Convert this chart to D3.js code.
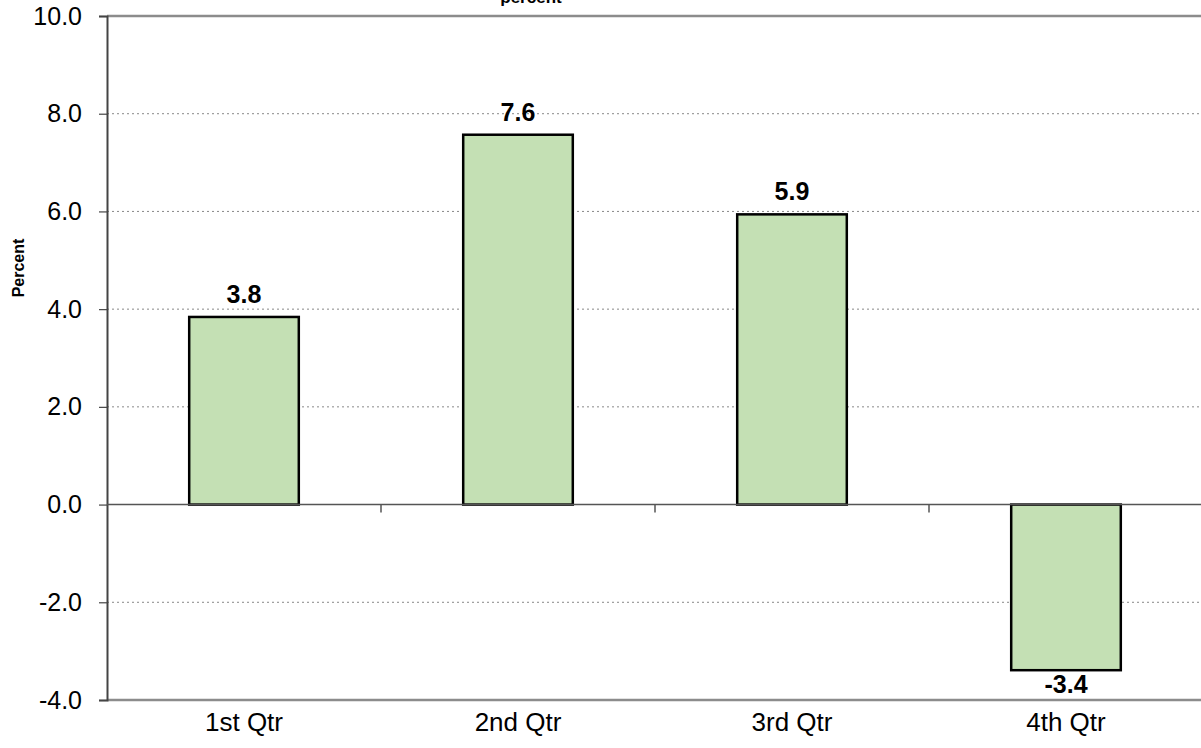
<!DOCTYPE html>
<html><head><meta charset="utf-8">
<script src="https://cdn.jsdelivr.net/npm/d3@7"></script>
<style>body{margin:0;background:#fff}svg{display:block}text{font-family:"Liberation Sans",Arial,sans-serif}</style>
</head><body>
<svg id="c" width="1201" height="748"></svg>
<script>
const categories = ["1st Qtr","2nd Qtr","3rd Qtr","4th Qtr"];
const values = [3.84, 7.57, 5.94, -3.39];
const yTicks = [-4,-2,0,2,4,6,8,10];
const title = "percent";
const yTitle = "Percent";

const svg = d3.select("#c");
const L=107, R=1203, T=16, B=700;
const x = d3.scaleBand().domain(categories).range([L,R]).paddingInner(0.6).paddingOuter(0.3);
const xb = d3.scaleBand().domain(categories).range([L,R]);
const y = d3.scaleLinear().domain([-4,10]).range([B,T]);

// gridlines
svg.append("g").selectAll("line").data(yTicks.filter(t=>t!==0&&t!==10&&t!==-4)).join("line")
  .attr("x1",L).attr("x2",R).attr("y1",d=>y(d)).attr("y2",d=>y(d))
  .attr("stroke","#888").attr("stroke-width",1).attr("stroke-dasharray","2,3");

// top/bottom border
svg.append("line").attr("x1",L).attr("x2",R).attr("y1",y(10)).attr("y2",y(10)).attr("stroke","#8c8c8c").attr("stroke-width",2.5);
svg.append("line").attr("x1",L).attr("x2",R).attr("y1",y(-4)).attr("y2",y(-4)).attr("stroke","#8c8c8c").attr("stroke-width",2.5);

// y axis
const ya = svg.append("g").attr("transform",`translate(${L},0)`)
  .call(d3.axisLeft(y).tickValues(yTicks).tickFormat(d=>d.toFixed(1)).tickSize(8).tickPadding(17));
ya.select(".domain").attr("stroke","#444").attr("stroke-width",2);
ya.selectAll(".tick line").attr("stroke","#444").attr("stroke-width",1.2);
ya.selectAll(".tick text").attr("font-size",25).attr("fill","#000").attr("font-family","'Liberation Sans',Arial,sans-serif");

// bars
svg.append("g").selectAll("rect").data(values).join("rect")
  .attr("x",(d,i)=>x(categories[i])).attr("width",x.bandwidth())
  .attr("y",d=>y(Math.max(0,d))).attr("height",d=>Math.abs(y(d)-y(0)))
  .attr("fill","#c4e0b4").attr("stroke","#000").attr("stroke-width",2.5);

// zero line
svg.append("line").attr("x1",L).attr("x2",R).attr("y1",y(0)).attr("y2",y(0)).attr("stroke","#555").attr("stroke-width",1.5);
svg.append("g").selectAll("line").data(categories.slice(1)).join("line")
  .attr("x1",d=>xb(d)).attr("x2",d=>xb(d)).attr("y1",y(0)).attr("y2",y(0)+8)
  .attr("stroke","#555").attr("stroke-width",1.5);

// value labels
svg.append("g").selectAll("text").data(values).join("text")
  .attr("x",(d,i)=>x(categories[i])+x.bandwidth()/2)
  .attr("y",d=>d>=0? y(d)-14 : y(d)+23)
  .attr("text-anchor","middle").attr("font-size",25).attr("font-weight","bold")
  .text(d=>d.toFixed(1));

// x labels
svg.append("g").selectAll("text").data(categories).join("text")
  .attr("x",d=>xb(d)+xb.bandwidth()/2).attr("y",731)
  .attr("text-anchor","middle").attr("font-size",26).text(d=>d);

// y title
svg.append("text").attr("transform","translate(24,268) rotate(-90)")
  .attr("text-anchor","middle").attr("font-size",16).attr("font-weight","bold").text(yTitle);

// chart title (cut at top, as in reference)
svg.append("text").attr("x",531).attr("y",3).attr("text-anchor","middle")
  .attr("font-size",17).attr("font-weight","bold").text(title);
</script>
</body></html>
